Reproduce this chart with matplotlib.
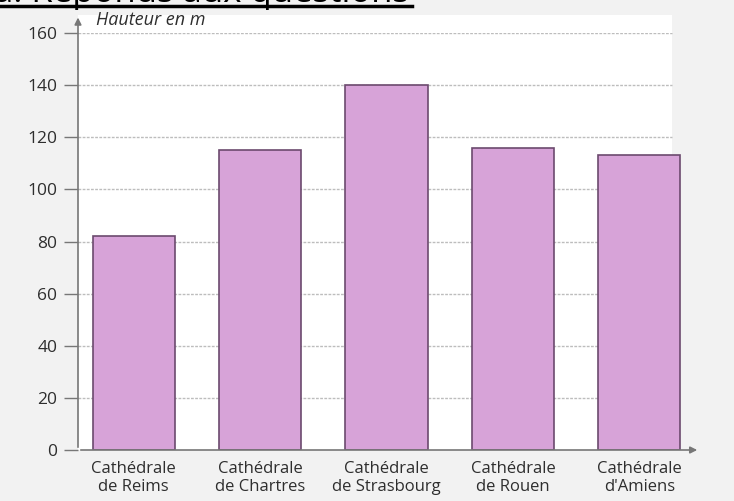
import matplotlib.pyplot as plt
from matplotlib.patches import Rectangle

# data
categories = ["Cathédrale\nde Reims", "Cathédrale\nde Chartres", "Cathédrale\nde Strasbourg",
              "Cathédrale\nde Rouen", "Cathédrale\nd'Amiens"]
heights = [82, 115, 140, 116, 113]
y_ticks = [0, 20, 40, 60, 80, 100, 120, 140, 160]

bar_colour = '#d7a3d8'
edge_colour = '#6c4a6e'
grid_colour = '#bdbdbd'
text_colour = '#2e2e2e'

plt.rcParams['font.family'] = ['Open Sans', 'DejaVu Sans']

W, H = 734, 501
fig = plt.figure(figsize=(W / 100, H / 100), dpi=100)
fig.patch.set_facecolor('#f2f2f2')

# axes placed in pixel terms: y axis at x=78, x arrow ends at x=700
left, right, bottom, top = 78, 700, 450, 33
ax = fig.add_axes([left / W, 1 - bottom / H, (right - left) / W, (bottom - top) / H])
ax.patch.set_alpha(0)

x = list(range(len(categories)))
x_min, x_max, grid_end = -0.44, 4.48, 4.26
ax.set_xlim(x_min, x_max)
ax.set_ylim(0, 160)

# white plotting area
ax.add_patch(Rectangle((x_min, 0), grid_end - x_min, 167, facecolor='white',
                       edgecolor='none', clip_on=False, zorder=0))

# horizontal grid
for t in y_ticks[1:]:
    ax.hlines(t, x_min, grid_end, color=grid_colour, lw=1.0, ls=(0, (2, 1)), zorder=1)

ax.bar(x, heights, width=0.65, color=bar_colour, edgecolor=edge_colour, lw=1.2, zorder=2)

for s in ax.spines.values():
    s.set_visible(False)

# axes with arrows
ax.annotate('', xy=(x_min, 167), xytext=(x_min, 0),
            arrowprops=dict(arrowstyle='-|>', color='#777777', lw=1.2, mutation_scale=10),
            annotation_clip=False, zorder=3)
ax.annotate('', xy=(x_max, 0), xytext=(x_min, 0),
            arrowprops=dict(arrowstyle='-|>', color='#777777', lw=1.2, mutation_scale=10),
            annotation_clip=False, zorder=3)

ax.set_yticks(y_ticks)
ax.set_yticklabels([str(t) for t in y_ticks], fontsize=12.5, color=text_colour)
ax.tick_params(axis='y', length=10, width=1, color='#777777', pad=5)
ax.set_xticks(x)
ax.set_xticklabels(categories, fontsize=12, color=text_colour, linespacing=1.15)
ax.tick_params(axis='x', length=0, pad=8)

ax.text(x_min + 0.14, 164.8, 'Hauteur en m', fontsize=13, style='italic',
        color=text_colour, va='center', ha='left')

# cut-off heading of the scanned page (only its lower edge shows in the scan)
fig.text(-6 / W, 1 - 2 / H, 'a. Réponds aux questions', fontsize=25, color='black',
         ha='left', va='baseline')
fig.add_artist(plt.Line2D([0, 412 / W], [1 - 6 / H, 1 - 6 / H], color='black', lw=2.5))

fig.savefig('out.png', dpi=100, facecolor=fig.get_facecolor())
